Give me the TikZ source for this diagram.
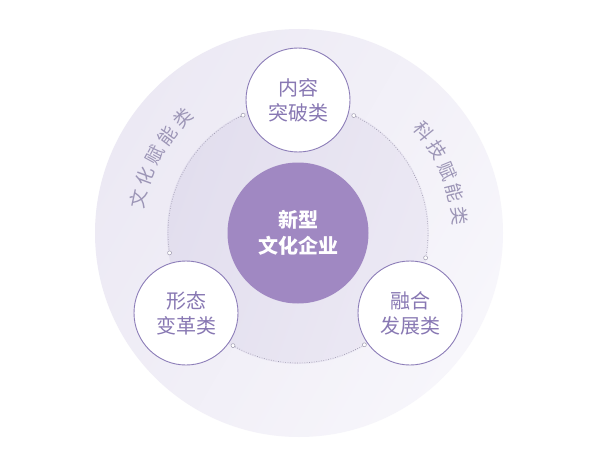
\documentclass[tikz,border=0pt]{standalone}
\usepackage{fontspec}
\newfontfamily\cjk{Noto Sans CJK SC}
\definecolor{outerL}{HTML}{ECE9F4}
\definecolor{outerR}{HTML}{F7F6FB}
\definecolor{midL}{HTML}{E2DEEE}
\definecolor{midR}{HTML}{ECE9F4}
\definecolor{core}{HTML}{A088C2}
\definecolor{ring}{HTML}{8C7DB8}
\definecolor{ringtext}{HTML}{8878B3}
\definecolor{arctext}{HTML}{9C95B6}
\definecolor{dotline}{HTML}{A09CB0}
\tikzset{
  smallcirc/.style={circle, draw=ring, line width=0.9pt, fill=white, minimum size=104pt, inner sep=0pt,
    align=center, text=ringtext, font=\cjk\fontsize{20}{25}\selectfont},
  corecirc/.style={circle, fill=core, minimum size=141pt, inner sep=0pt,
    align=center, text=white, font=\cjk\bfseries\fontsize{20}{26}\selectfont},
  arcchar/.style={text=arctext, font=\cjk\fontsize{18.5}{18.5}\selectfont, inner sep=0pt},
  dotarc/.style={draw=dotline, line width=0.6pt, dash pattern=on 0.8pt off 1.6pt},
  enddot/.style={circle, draw=dotline, fill=white, line width=0.5pt, minimum size=4pt, inner sep=0pt}
}
\begin{document}
\begin{tikzpicture}[x=1pt,y=1pt]
\useasboundingbox[fill=white] (0,0) rectangle (600,459);
% outer disc
\coordinate (oc) at (299,226);
\shade[left color=outerL, right color=outerR, shading angle=60] (oc) circle[radius=204];
% middle disc
\coordinate (mc) at (298,226);
\shade[left color=midL, right color=midR, shading angle=70] (mc) circle[radius=131];
% dotted arcs on the middle disc
\coordinate (a1) at ([shift={(mc)}]115:130);
\coordinate (a2) at ([shift={(mc)}]188.8:130);
\coordinate (b1) at ([shift={(mc)}]64.6:130);
\coordinate (b2) at ([shift={(mc)}]-11:130);
\coordinate (c1) at ([shift={(mc)}]240:130);
\coordinate (c2) at ([shift={(mc)}]300.7:130);
\draw[dotarc] (a1) arc[start angle=115, end angle=188.8, radius=130];
\draw[dotarc] (b1) arc[start angle=64.6, end angle=-11, radius=130];
\draw[dotarc] (c1) arc[start angle=240, end angle=300.7, radius=130];
\foreach \p in {a1,a2,b1,b2,c1,c2} \node[enddot] at (\p) {};
% core
\node[corecirc] (core) at (298,226) {新型\\文化企业};
% small circles
\node[smallcirc] (top) at (298,359) {内容\\突破类};
\node[smallcirc] (left) at (186,146) {形态\\变革类};
\node[smallcirc] (right) at (410,146) {融合\\发展类};
% arc texts
\foreach \c [count=\i from 0] in {文,化,赋,能,类} {
  \pgfmathsetmacro\ang{168-8.25*\i}
  \node[arcchar, rotate=\ang-90] (l\i) at ([shift={(mc)}]\ang:163) {\c};
}
\foreach \c [count=\i from 0] in {科,技,赋,能,类} {
  \pgfmathsetmacro\ang{39-8.25*\i}
  \node[arcchar, rotate=\ang-90] (r\i) at ([shift={(mc)}]\ang:162) {\c};
}
\end{tikzpicture}
\end{document}
